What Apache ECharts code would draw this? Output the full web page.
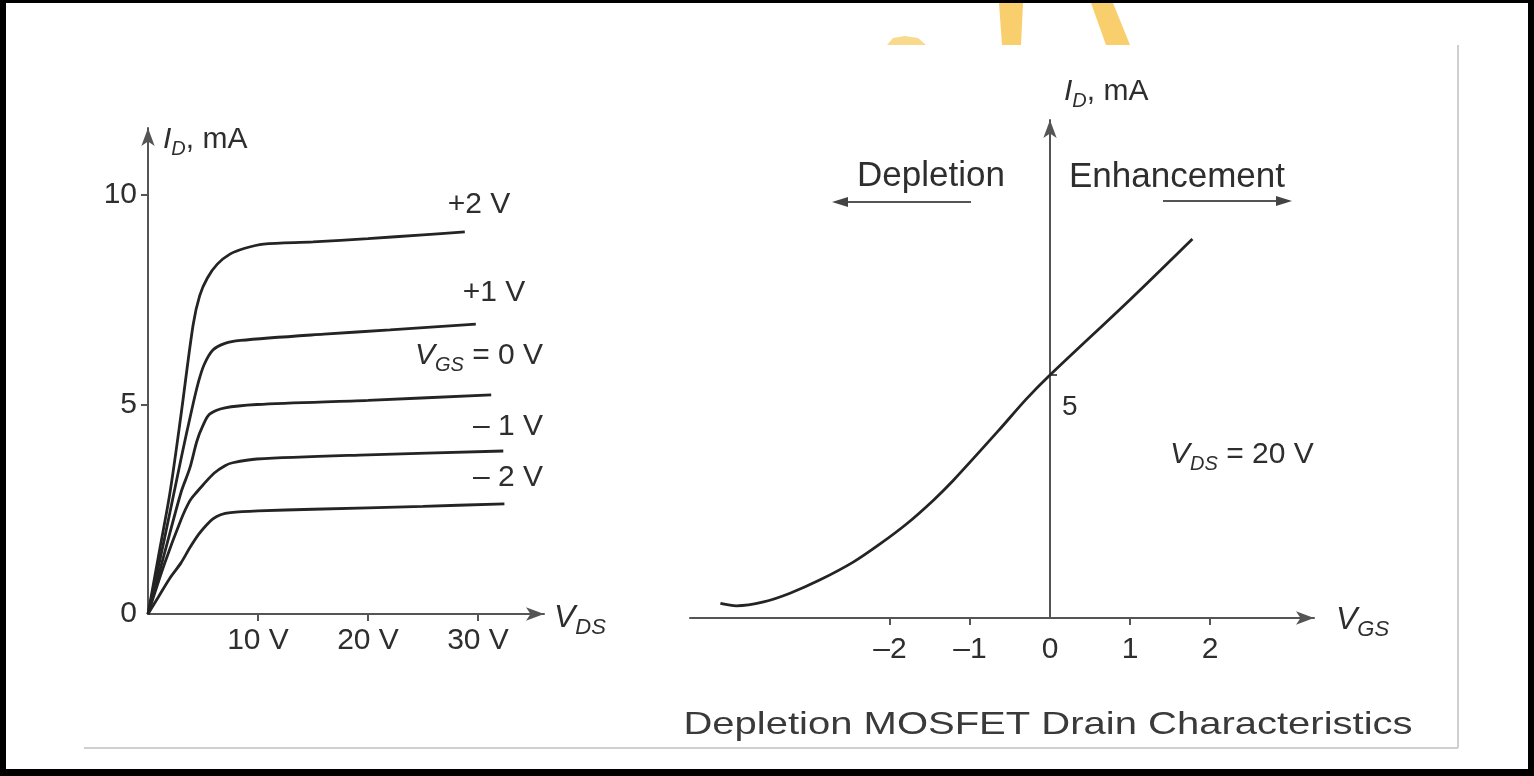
<!DOCTYPE html>
<html>
<head>
<meta charset="utf-8">
<script src="https://cdn.jsdelivr.net/npm/echarts@6/dist/echarts.min.js"></script>
<style>
html,body{margin:0;padding:0;background:#fff;}
#chart{width:1534px;height:776px;}
</style>
</head>
<body>
<div id="chart"></div>
<script>
// ---- data ----
const vdsTicks = [10, 20, 30];
const idTicksLeft = [0, 5, 10];
const vgsTicks = [-2, -1, 0, 1, 2];
const idTicksRight = [5];

// drain characteristics (VDS in V, ID in mA)
const vgsPlus2 = [[0,0],[1,1.45],[2,2.9],[3,4.75],[4.1,6.9],[4.7,7.6],[5.4,8.02],[6.3,8.35],[7.45,8.59],[8.8,8.73],[10.5,8.83],[15,8.88],[20,8.96],[25,9.05],[28.8,9.12]];
const vgsPlus1 = [[0,0],[1.5,1.8],[3,3.7],[4,4.9],[4.6,5.55],[5.1,5.95],[5.9,6.3],[7,6.46],[8.4,6.53],[16,6.68],[22,6.78],[29.8,6.92]];
const vgsZero  = [[0,0],[1.5,1.45],[3,2.9],[3.8,3.48],[4.45,4.13],[5,4.5],[5.6,4.77],[7,4.92],[9.9,5.0],[20,5.1],[31.2,5.23]];
const vgsMinus1 = [[0,0],[1.5,1.2],[3,2.25],[3.8,2.7],[4.4,2.9],[5.0,3.08],[6.0,3.36],[7.0,3.54],[7.7,3.61],[9.9,3.7],[20,3.8],[32.3,3.89]];
const vgsMinus2 = [[0,0],[1,0.43],[2,0.86],[3,1.22],[3.8,1.58],[4.6,1.9],[5.3,2.12],[5.9,2.27],[6.6,2.37],[7.5,2.42],[10,2.46],[15,2.5],[25,2.57],[32.4,2.63]];

// transfer characteristic at VDS = 20 V (VGS in V, ID in mA)
const transfer = [[-4.12,0.3],[-3.92,0.25],[-3.58,0.33],[-3.25,0.51],[-2.88,0.78],[-2.46,1.15],[-2.12,1.53],[-1.79,1.94],[-1.46,2.42],[-1.21,2.83],[-0.62,3.9],[-0.3,4.5],[0,5.0],[1,6.55],[1.78,7.8]];

const FONT = "'Liberation Sans', Arial, sans-serif";
const TXT = '#2e2e2e';
const AX = '#555';
const CURVE = '#242424';

const chart = echarts.init(document.getElementById('chart'));

function axisLine(onZero){
  return {show:true, onZero:onZero, symbol:['none','arrow'], symbolSize:[10,18], lineStyle:{color:AX, width:2}};
}
function lineSeries(data, xi){
  return {type:'line', xAxisIndex:xi, yAxisIndex:xi, data:data, smooth:0.3,
    showSymbol:false, silent:true, lineStyle:{color:CURVE, width:2.8}};
}
function rt(text, x, y, size, align){
  return {type:'text', x:x, y:y, z:10, silent:true,
    style:{text:text, fill:TXT, font:size+'px '+FONT, textAlign:align||'left', textVerticalAlign:'middle'}};
}
function richText(text, x, y, size, align){
  return {type:'text', x:x, y:y, z:10, silent:true,
    style:{text:text, fill:TXT, textAlign:align||'left', textVerticalAlign:'middle',
      rich:{
        i:{fontSize:size, fontFamily:FONT, fontStyle:'italic', fill:TXT},
        s:{fontSize:Math.round(size*0.68), fontFamily:FONT, fontStyle:'italic', fill:TXT, padding:[Math.round(size*0.62),0,0,0]},
        n:{fontSize:size, fontFamily:FONT, fill:TXT}
      }}};
}

const option = {
  backgroundColor:'#ffffff',
  animation:false,
  grid:[
    {left:148, top:128, width:396, height:486},
    {left:690, top:120, width:624, height:498}
  ],
  xAxis:[
    {type:'value', gridIndex:0, min:0, max:36, axisLine:axisLine(true), splitLine:{show:false},
     axisTick:{show:true, customValues:vdsTicks, length:7, lineStyle:{color:AX, width:2}},
     axisLabel:{customValues:vdsTicks, formatter:v=>v+' V', fontSize:30, fontFamily:FONT, color:TXT, margin:12}},
    {type:'value', gridIndex:1, min:-4.5, max:3.3, axisLine:axisLine(false), splitLine:{show:false},
     axisTick:{show:true, customValues:vgsTicks.filter(v=>v!==0), length:7, lineStyle:{color:AX, width:2}},
     axisLabel:{customValues:vgsTicks, formatter:v=>(v<0?'\u2013'+Math.abs(v):String(v)), fontSize:30, fontFamily:FONT, color:TXT, margin:17}}
  ],
  yAxis:[
    {type:'value', gridIndex:0, min:0, max:11.6, axisLine:axisLine(true), splitLine:{show:false},
     axisTick:{show:true, customValues:idTicksLeft.filter(v=>v!==0), length:7, lineStyle:{color:AX, width:2}},
     axisLabel:{customValues:idTicksLeft, fontSize:30, fontFamily:FONT, color:TXT, margin:11}},
    // right ID axis sits at VGS = 0 : shifted into the grid by (0 - min) * px per volt
    {type:'value', gridIndex:1, min:0, max:10.25, offset:-360, axisLine:axisLine(false), splitLine:{show:false},
     axisTick:{show:true, customValues:idTicksRight, length:7, inside:true, lineStyle:{color:AX, width:2}},
     axisLabel:{customValues:idTicksRight, inside:true, fontSize:28, fontFamily:FONT, color:TXT, margin:12, verticalAlign:'top', padding:[18,0,0,0]}}
  ],
  series:[
    lineSeries(vgsPlus2,0), lineSeries(vgsPlus1,0), lineSeries(vgsZero,0),
    lineSeries(vgsMinus1,0), lineSeries(vgsMinus2,0),
    lineSeries(transfer,1)
  ],
  graphic:[
    // outer black frame
    {type:'rect', shape:{x:0,y:0,width:6,height:776}, style:{fill:'#000'}, silent:true, z:20},
    {type:'rect', shape:{x:1528,y:0,width:6,height:776}, style:{fill:'#000'}, silent:true, z:20},
    {type:'rect', shape:{x:0,y:0,width:1534,height:3}, style:{fill:'#000'}, silent:true, z:20},
    {type:'rect', shape:{x:0,y:769,width:1534,height:7}, style:{fill:'#000'}, silent:true, z:20},
    // image frame lines
    {type:'line', shape:{x1:84,y1:748,x2:1458,y2:748}, style:{stroke:'#cfcfcf', lineWidth:2}, silent:true},
    {type:'line', shape:{x1:1458,y1:45,x2:1458,y2:748}, style:{stroke:'#cfcfcf', lineWidth:2}, silent:true},
    // watermark fragments
    {type:'polygon', shape:{points:[[999,3],[1023,3],[1021,45],[1002,45]]}, style:{fill:'#f9cf6e'}, silent:true},
    {type:'polygon', shape:{points:[[1091,3],[1113,3],[1130,45],[1106,45]]}, style:{fill:'#f9cf6e'}, silent:true},
    {type:'polygon', shape:{points:[[887,45],[893,38],[905,36],[918,38],[926,45]]}, style:{fill:'#f9d98c'}, silent:true},
    // left plot annotations
    richText('{i|I}{s|D}{n|, mA}', 163, 140, 30, 'left'),
    rt('+2 V', 479, 205, 30, 'center'),
    rt('+1 V', 494, 293, 30, 'center'),
    richText('{i|V}{s|GS}{n| = 0 V}', 415, 356, 30, 'left'),
    rt('\u2013 1 V', 508, 427, 30, 'center'),
    rt('\u2013 2 V', 508, 478, 30, 'center'),
    richText('{i|V}{s|DS}', 554, 618, 32, 'left'),
    // right plot annotations
    richText('{i|I}{s|D}{n|, mA}', 1064, 92, 30, 'left'),
    rt('Depletion', 857, 176, 35, 'left'),
    rt('Enhancement', 1069, 177, 35, 'left'),
    {type:'line', shape:{x1:845,y1:202,x2:971,y2:202}, style:{stroke:'#555', lineWidth:2}, silent:true},
    {type:'polygon', shape:{points:[[832,202],[848,197],[848,207]]}, style:{fill:'#444'}, silent:true},
    {type:'line', shape:{x1:1163,y1:201,x2:1280,y2:201}, style:{stroke:'#555', lineWidth:2}, silent:true},
    {type:'polygon', shape:{points:[[1292,201],[1276,196],[1276,206]]}, style:{fill:'#444'}, silent:true},
    richText('{i|V}{s|DS}{n| = 20 V}', 1170, 455, 30, 'left'),
    richText('{i|V}{s|GS}', 1336, 620, 32, 'left'),
    // caption
    {type:'text', x:1048, y:725, z:10, scaleX:1.25, silent:true,
     style:{text:'Depletion MOSFET Drain Characteristics', fill:'#3a3a3a', font:'32px '+FONT, textAlign:'center', textVerticalAlign:'middle'}}
  ]
};
chart.setOption(option);
</script>
</body>
</html>
